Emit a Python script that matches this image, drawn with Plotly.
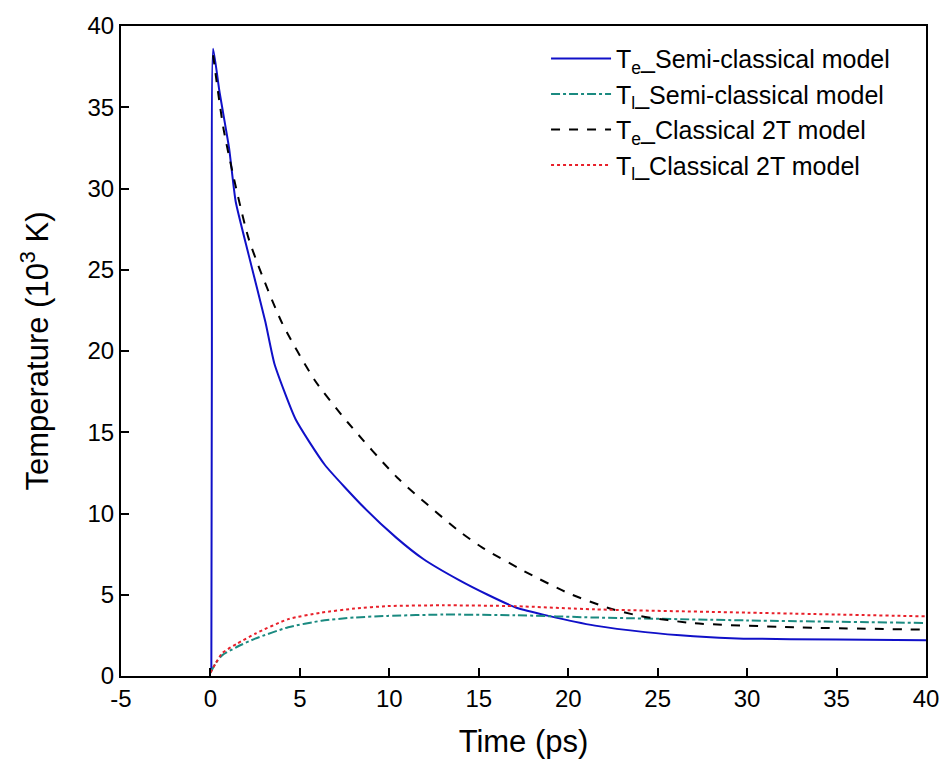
import plotly.graph_objects as go

# Te semi-classical model (solid blue)
te_semi_t = [0.05, 0.08, 0.15, 0.5, 1.04, 1.41, 2.14, 3.07, 3.58, 4.76, 6.39, 8.6, 10.4, 11.9, 13.9, 15.5, 17.1, 18.9, 21.5, 24.3, 27.0, 29.8, 35.0, 40.0]
te_semi_v = [0.3, 20.0, 38.6, 36.0, 32.5, 29.2, 25.9, 21.8, 19.2, 15.8, 13.0, 10.35, 8.5, 7.2, 5.9, 5.0, 4.2, 3.7, 3.1, 2.7, 2.45, 2.3, 2.25, 2.2]

# Tl semi-classical model (dash-dot teal)
tl_semi_t = [0.0, 0.3, 0.65, 1.5, 2.5, 4.35, 6.2, 8.05, 9.9, 13.0, 17.0, 21.5, 30.0, 40.0]
tl_semi_v = [0.2, 0.8, 1.27, 1.8, 2.3, 3.0, 3.4, 3.6, 3.7, 3.78, 3.74, 3.6, 3.42, 3.26]

# Te classical 2T model (dashed black)
te_cl_t = [0.15, 0.76, 2.14, 3.97, 5.83, 7.68, 10.45, 13.8, 15.2, 17.8, 20.0, 22.2, 24.0, 27.0, 32.6, 40.0]
te_cl_v = [38.2, 33.5, 26.9, 21.8, 18.2, 15.6, 12.2, 9.0, 7.9, 6.3, 5.1, 4.2, 3.7, 3.25, 3.0, 2.85]

# Tl classical 2T model (dotted red)
tl_cl_t = [0.0, 0.3, 0.65, 1.5, 2.5, 4.35, 6.2, 8.05, 9.9, 13.0, 17.0, 21.5, 30.0, 40.0]
tl_cl_v = [0.2, 0.8, 1.4, 2.0, 2.6, 3.5, 3.9, 4.15, 4.3, 4.35, 4.3, 4.1, 3.9, 3.67]

x_ticks = [-5, 0, 5, 10, 15, 20, 25, 30, 35, 40]
x_tick_text = ["-5", "0", "5", "10", "15", "20", "25", "30", "35", "40"]
y_ticks = [0, 5, 10, 15, 20, 25, 30, 35, 40]

FONT = "Liberation Sans, Arial, sans-serif"

fig = go.Figure()
fig.add_trace(go.Scatter(x=te_semi_t, y=te_semi_v, mode="lines",
                         name="T<sub>e</sub>_Semi-classical model",
                         line=dict(color="#1010c8", width=2, shape="spline", smoothing=0.5)))
fig.add_trace(go.Scatter(x=tl_semi_t, y=tl_semi_v, mode="lines",
                         name="T<sub>l</sub>_Semi-classical model",
                         line=dict(color="#1a8a80", width=2, dash="dashdot", shape="spline", smoothing=0.6)))
fig.add_trace(go.Scatter(x=te_cl_t, y=te_cl_v, mode="lines",
                         name="T<sub>e</sub>_Classical 2T model",
                         line=dict(color="black", width=2, dash="dash", shape="spline", smoothing=0.6)))
fig.add_trace(go.Scatter(x=tl_cl_t, y=tl_cl_v, mode="lines",
                         name="T<sub>l</sub>_Classical 2T model",
                         line=dict(color="#e8202a", width=2, dash="dot", shape="spline", smoothing=0.6)))

axis_common = dict(showgrid=False, zeroline=False, showline=True, linecolor="black",
                   linewidth=2, mirror=True, ticks="inside", ticklen=8, tickwidth=2,
                   tickcolor="black", tickfont=dict(family=FONT, size=24, color="black"))

fig.update_xaxes(range=[-5, 40], tickvals=x_ticks, ticktext=x_tick_text,
                 title=dict(text="Time (ps)", font=dict(family=FONT, size=31, color="black"), standoff=20),
                 **axis_common)
fig.update_yaxes(range=[0, 40], tickvals=y_ticks,
                 title=dict(text="Temperature (10<sup>3</sup> K)", font=dict(family=FONT, size=31, color="black"), standoff=30),
                 **axis_common)

fig.update_layout(
    width=951, height=765,
    margin=dict(l=121, r=17, t=15, b=87),
    plot_bgcolor="white", paper_bgcolor="white",
    font=dict(family=FONT, color="black"),
    legend=dict(x=0.528, y=0.985, xanchor="left", yanchor="top",
                bgcolor="rgba(0,0,0,0)", borderwidth=0,
                font=dict(family=FONT, size=25, color="black"),
                tracegroupgap=0, itemwidth=60),
    showlegend=True,
)

fig.write_html("out.html")
